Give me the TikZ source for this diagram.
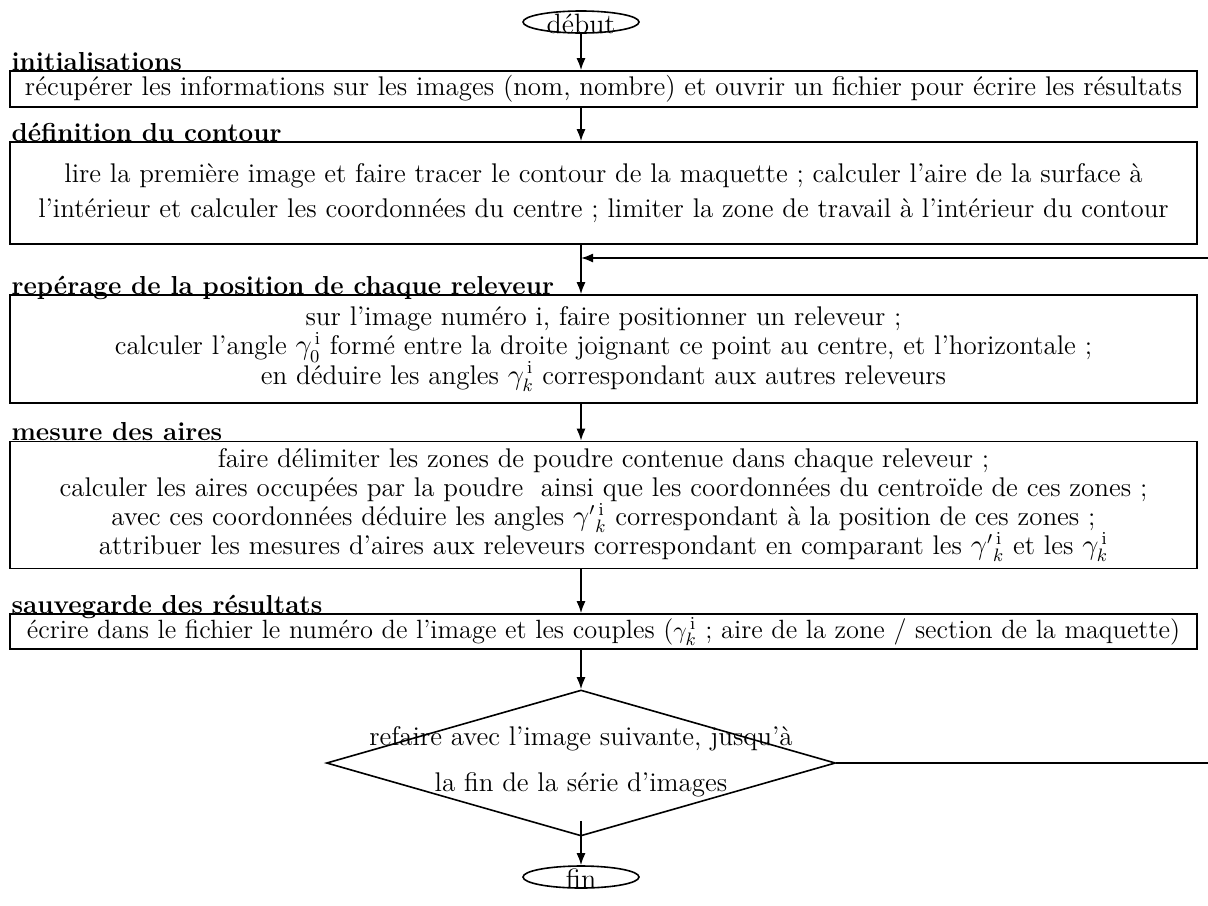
\documentclass[tikz,border=0pt]{standalone}
\usepackage{amsmath}
\usetikzlibrary{arrows, arrows.meta}
\usetikzlibrary{shapes.geometric}
\usetikzlibrary{positioning, calc}

\newcommand\serre{\lineskiplimit=-8pt\relax}

\tikzset{
  etape/.style={draw, line width=0.8pt, minimum width=593.5pt, inner sep=0pt,
    align=center, font=\fontsize{13.5}{14.6}\selectfont\serre},
  titre/.style={anchor=base west, inner sep=0pt, font=\fontsize{13}{13}\selectfont\bfseries},
  borne/.style={draw, ellipse, line width=0.8pt, inner sep=0pt, minimum width=58pt, minimum height=11pt},
  fleche/.style={-{Latex[length=6pt,width=4.5pt]}, line width=0.8pt},
}

\begin{document}
\begin{tikzpicture}[x=0.5pt, y=-0.5pt]
      \useasboundingbox (0,0) rectangle (1208,905);

      % DEBUT
      \node[borne] (debut) at (581,22) {};
      \node[font=\fontsize{14}{14}\selectfont, inner sep=0pt] (tdebut) at (581,24) {début};

      % ETAPES
      \node[etape, minimum height=18pt] (init) at (603.5,89)
      {récupérer les informations sur les images (nom, nombre) et ouvrir un fichier pour écrire les résultats};
      \node[titre] (tinit) at ([xshift=1pt]init.north west) {initialisations};

      \node[etape, minimum height=51pt] (contour) at (603.5,193)
      {lire la première image et faire tracer le contour de la maquette ; calculer l'aire de la surface à\\[3pt]
       l'intérieur et calculer les coordonnées du centre ; limiter la zone de travail à l'intérieur du contour};
      \node[titre] (tcontour) at ([xshift=1pt]contour.north west) {définition du contour};

      \node[etape, minimum height=54pt] (reperage) at (603.5,349)
      {sur l'image numéro i, faire positionner un releveur ;\\
       calculer l'angle $\gamma_0^{\,\mathrm{i}}$ formé entre la droite joignant ce point au centre, et l'horizontale ;\\
       en déduire les angles $\gamma_k^{\,\mathrm{i}}$ correspondant aux autres releveurs};
      \node[titre] (treperage) at ([xshift=1pt]reperage.north west) {repérage de la position de chaque releveur};

      \node[etape, minimum height=63.5pt] (mesure) at (603.5,505)
      {faire délimiter les zones de poudre contenue dans chaque releveur ;\\
       calculer les aires occupées par la poudre\ \ ainsi que les coordonnées du centroïde de ces zones ;\\
       avec ces coordonnées déduire les angles $\gamma'{}_k^{\,\mathrm{i}}$ correspondant à la position de ces zones ;\\
       attribuer les mesures d'aires aux releveurs correspondant en comparant les $\gamma'{}_k^{\,\mathrm{i}}$ et les $\gamma_k^{\,\mathrm{i}}$};
      \node[titre] (tmesure) at ([xshift=1pt]mesure.north west) {mesure des aires};

      \node[etape, minimum height=17.5pt, font=\fontsize{13.2}{13}\selectfont] (sauvegarde) at (603.5,631.5)
      {écrire dans le fichier le numéro de l'image et les couples ($\gamma_k^{\,\mathrm{i}}$ ; aire de la zone / section de la maquette)};
      \node[titre] (tsauvegarde) at ([xshift=1pt]sauvegarde.north west) {sauvegarde des résultats};

      % TEST
      \node[draw, diamond, line width=0.8pt, inner sep=0pt, minimum width=254.5pt, minimum height=73pt] (test) at (581,763) {};
      \node[align=center, inner sep=0pt, font=\fontsize{13.5}{23}\selectfont] (ttest) at (581,762)
      {refaire avec l'image suivante, jusqu'à\\ la fin de la série d'images};

      % FIN
      \node[borne] (fin) at (581,877) {};
      \node[font=\fontsize{14}{14}\selectfont, inner sep=0pt] (tfin) at (581,879) {fin};

      % LIENS
      \coordinate (retour) at (1208,258);
      \coordinate (jonction) at (581,258);
      \coordinate (bord) at (1208,763);

      \draw[fleche] (debut.south) -- (debut.south |- init.north);
      \draw[fleche] (init.south -| debut.south) -- (debut.south |- contour.north);
      \draw[fleche] (contour.south -| debut.south) -- (debut.south |- reperage.north);
      \draw[fleche] (retour) -- (jonction);
      \draw[fleche] (reperage.south -| debut.south) -- (debut.south |- mesure.north);
      \draw[fleche] (mesure.south -| debut.south) -- (debut.south |- sauvegarde.north);
      \draw[fleche] (sauvegarde.south -| debut.south) -- (test.north);
      \draw[fleche] ([yshift=8pt]test.south) -- (fin.north);
      \draw[line width=0.8pt] (test.east) -- (bord);
    \end{tikzpicture}
\end{document}
